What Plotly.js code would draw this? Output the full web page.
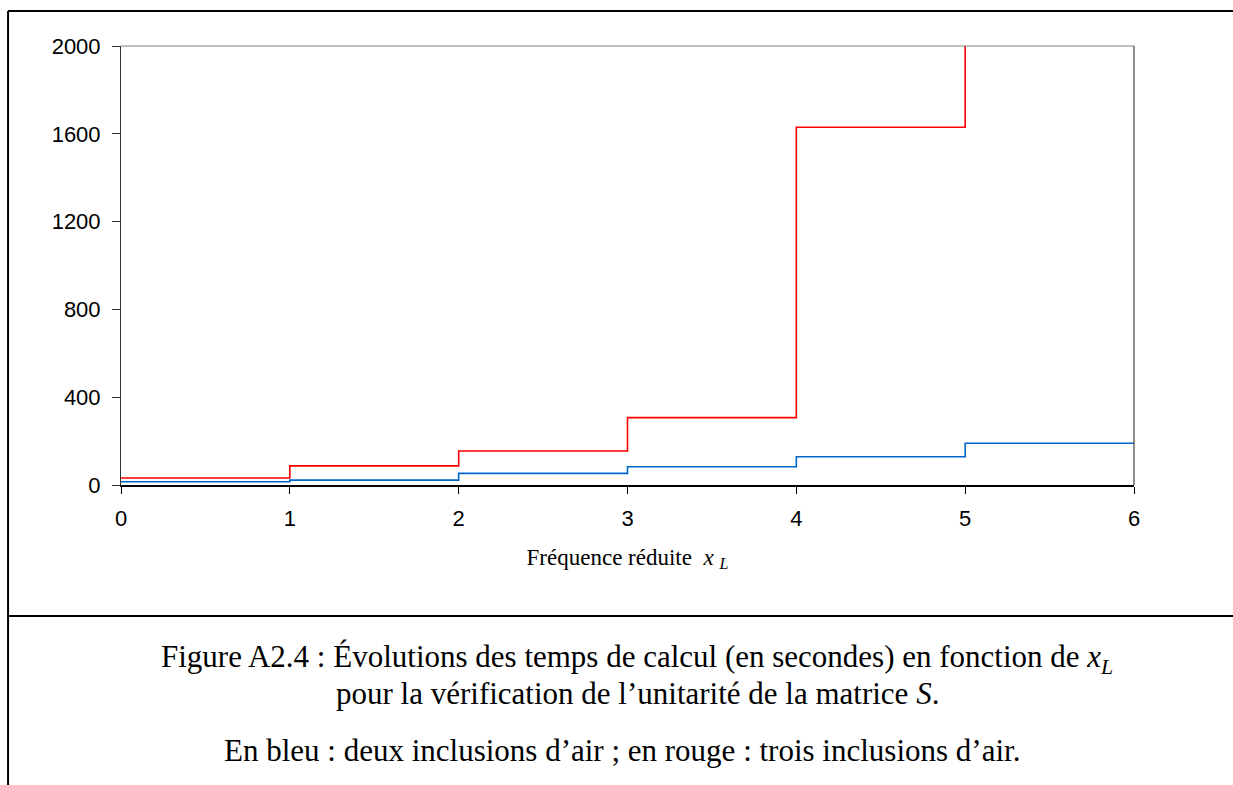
<!DOCTYPE html>
<html>
<head>
<meta charset="utf-8">
<script src="https://cdn.plot.ly/plotly-3.0.1.min.js"></script>
<style>
html,body{margin:0;padding:0;background:#fff;}
#chart{width:1233px;height:785px;}
</style>
</head>
<body>
<div id="chart"></div>
<script>
// Reduced frequency x_L (step start points)
const xBlue = [0, 1, 2, 3, 4, 5, 6];
const xRed = [0, 1, 2, 3, 4, 5];
// Computation time (seconds) – two air inclusions (blue)
const timeBlue = [15, 22, 53, 83, 129, 190, 190];
// Computation time (seconds) – three air inclusions (red); last step leaves the frame
const timeRed = [32, 87, 155, 307, 1630, 2500];

const xTicks = [0, 1, 2, 3, 4, 5, 6];
const yTicks = [0, 400, 800, 1200, 1600, 2000];

const captionLine1 = "Figure A2.4 : Évolutions des temps de calcul (en secondes) en fonction de <i>x</i><sub><i>L</i></sub>";
const captionLine2 = "pour la vérification de l’unitarité de la matrice <i>S</i>.";
const captionLine3 = "En bleu : deux inclusions d’air ; en rouge : trois inclusions d’air.";
const xTitle = "Fréquence réduite  <i>x</i> <sub><i>L</i></sub>";

const traces = [
  {x: xBlue, y: timeBlue, mode: 'lines', line: {shape: 'hv', color: '#0066CC', width: 1.6}, name: 'deux inclusions', showlegend: false, hoverinfo: 'x+y'},
  {x: xRed, y: timeRed, mode: 'lines', line: {shape: 'hv', color: '#FF0000', width: 1.6}, name: 'trois inclusions', showlegend: false, hoverinfo: 'x+y'}
];

const serif = 'Liberation Serif, "Times New Roman", serif';
const sans = 'Liberation Sans, Arial, sans-serif';

const layout = {
  width: 1233, height: 785,
  margin: {l: 121, r: 99, t: 46, b: 300},
  paper_bgcolor: '#fff', plot_bgcolor: '#fff',
  showlegend: false,
  xaxis: {
    range: [0, 6], tickvals: xTicks, ticktext: xTicks.map(String),
    showgrid: false, zeroline: false,
    showline: true, linecolor: '#000', linewidth: 2,
    ticks: 'outside', ticklen: 7, tickcolor: '#000', tickwidth: 1,
    ticklabelstandoff: 6,
    tickfont: {family: sans, size: 22, color: '#000'},
    title: {text: xTitle, font: {family: serif, size: 23, color: '#000'}, standoff: 18}
  },
  yaxis: {
    range: [0, 2000], tickvals: yTicks, ticktext: yTicks.map(String),
    showgrid: false, zeroline: false,
    showline: true, linecolor: '#333', linewidth: 1,
    ticks: 'outside', ticklen: 8, tickcolor: '#333', tickwidth: 1,
    ticklabelstandoff: 7,
    tickfont: {family: sans, size: 22, color: '#000'}
  },
  shapes: [
    // plot frame top and right
    {type: 'line', xref: 'paper', yref: 'paper', x0: 0, x1: 1, y0: 1, y1: 1, line: {color: '#808080', width: 1.2}},
    {type: 'line', xref: 'paper', yref: 'paper', x0: 1, x1: 1, y0: 0, y1: 1, line: {color: '#404040', width: 1.2}},
    // outer document box
    {type: 'line', xref: 'paper', yref: 'paper', x0: -0.1115, x1: 1.2, y0: 1.0797, y1: 1.0797, line: {color: '#000', width: 2}},
    {type: 'line', xref: 'paper', yref: 'paper', x0: -0.1115, x1: -0.1115, y0: 1.0797, y1: -0.7, line: {color: '#000', width: 2}},
    {type: 'line', xref: 'paper', yref: 'paper', x0: -0.1115, x1: 1.2, y0: -0.2984, y1: -0.2984, line: {color: '#000', width: 2}}
  ],
  annotations: [
    {text: captionLine1, xref: 'paper', yref: 'paper', x: 0.5094, y: -0.3964, xanchor: 'center', yanchor: 'middle', showarrow: false, font: {family: serif, size: 31, color: '#000'}},
    {text: captionLine2, xref: 'paper', yref: 'paper', x: 0.5094, y: -0.474, xanchor: 'center', yanchor: 'middle', showarrow: false, font: {family: serif, size: 31, color: '#000'}},
    {text: captionLine3, xref: 'paper', yref: 'paper', x: 0.4946, y: -0.604, xanchor: 'center', yanchor: 'middle', showarrow: false, font: {family: serif, size: 31, color: '#000'}}
  ]
};

Plotly.newPlot('chart', traces, layout, {displayModeBar: false, staticPlot: true});
</script>
</body>
</html>
